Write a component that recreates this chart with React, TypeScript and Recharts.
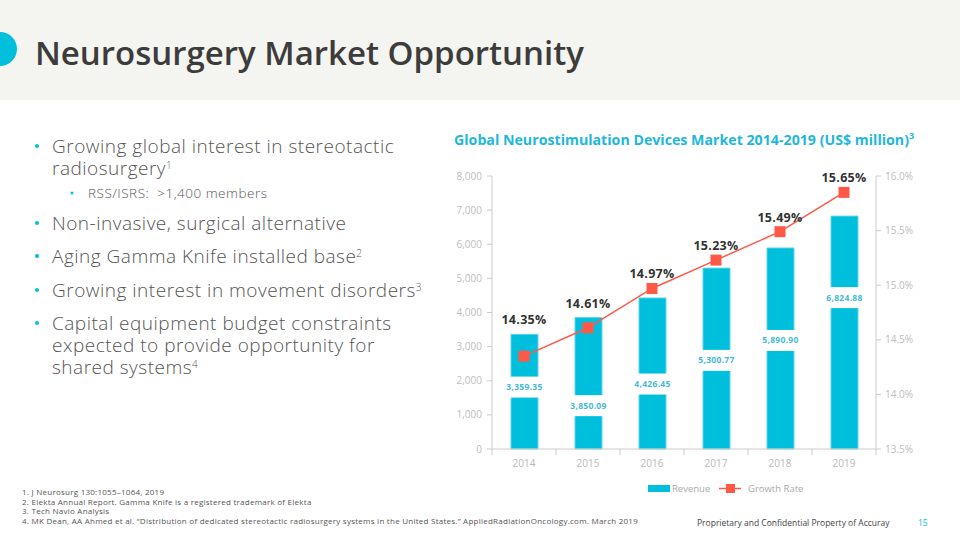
import React from "react";
import { ComposedChart, Bar, Line, XAxis, YAxis, LabelList } from "recharts";

const years = ["2014", "2015", "2016", "2017", "2018", "2019"];
const revenue = [3359.35, 3850.09, 4426.45, 5300.77, 5890.9, 6824.88];
const revenueLabels = ["3,359.35", "3,850.09", "4,426.45", "5,300.77", "5,890.90", "6,824.88"];
// growth rate as plotted in the picture (last marker is drawn near 15.85)
const growthPlotted = [14.35, 14.61, 14.97, 15.23, 15.49, 15.85];
const growthLabels = ["14.35%", "14.61%", "14.97%", "15.23%", "15.49%", "15.65%"];
const revenueTicks = [0, 1000, 2000, 3000, 4000, 5000, 6000, 7000, 8000];
const growthTicks = [13.5, 14, 14.5, 15, 15.5, 16];

const data = years.map((y, i) => ({ year: y, revenue: revenue[i], growth: growthPlotted[i] }));

// label placement (fraction of bar height from the base)
const REV_LABEL_FRAC = [0.54, 0.33, 0.43, 0.49, 0.54, 0.65];

const CYAN = "#00BFDD";
const RED = "#FF5847";
const FONT = "'Open Sans', 'Noto Sans', sans-serif";

const CH_W = 500;
const CH_H = 330;
const M = { top: 16, right: 4, left: 12, bottom: 16 };
const XH = 25;
const PLOT_BOTTOM = CH_H - M.bottom - XH;
const PLOT_H = PLOT_BOTTOM - M.top;

const fmt = (v: number) => v.toLocaleString("en-US");

function RevLabel(props: any) {
  const vb = props.viewBox || {};
  const x = props.x ?? vb.x;
  const y = props.y ?? vb.y;
  const w = props.width ?? vb.width;
  const h = props.height ?? vb.height;
  const i = props.index;
  const cy = y + h - h * REV_LABEL_FRAC[i];
  return (
    <g>
      <rect x={x - 2} y={cy - 10.5} width={w + 4} height={21} fill="#ffffff" />
      <text x={x + w / 2} y={cy + 3} textAnchor="middle" fontSize={8.5} fontWeight={700} fill="#45B9D6" fontFamily={FONT} letterSpacing={0.3}>
        {revenueLabels[i]}
      </text>
    </g>
  );
}

function GrowthLabel(props: any) {
  const vb = props.viewBox || {};
  const x = props.x ?? vb.x;
  const y = props.y ?? vb.y;
  const i = props.index;
  const barTop = PLOT_BOTTOM - (revenue[i] / 8000) * PLOT_H;
  const top = Math.min(y, barTop);
  return (
    <text x={x} y={top - 10} textAnchor="middle" fontSize={12.5} fontWeight={700} fill="#333333" fontFamily={FONT} letterSpacing={0.3}>
      {growthLabels[i]}
    </text>
  );
}

function SquareDot(props: any) {
  const { cx, cy } = props;
  if (cx == null || cy == null) return null;
  return <rect x={cx - 5.5} y={cy - 5.5} width={11} height={11} fill={RED} />;
}

function XTick(props: any) {
  const { x, y, payload } = props;
  const off = payload && payload.offset ? payload.offset : 32;
  return (
    <g>
      {payload.index === 0 && <line x1={x - off} y1={y} x2={x - off} y2={y + 6} stroke="#cccccc" />}
      <line x1={x + off} y1={y} x2={x + off} y2={y + 6} stroke="#cccccc" />
      <text x={x} y={y + 18} textAnchor="middle" fontSize={10} fill="#b8b8b8" fontFamily={FONT}>
        {payload.value}
      </text>
    </g>
  );
}

type Line_ = { t: string; sup?: string };
const bullets: { y: number; lines: Line_[] }[] = [
  { y: 153, lines: [{ t: "Growing global interest in stereotactic" }, { t: "radiosurgery", sup: "1" }] },
  { y: 230, lines: [{ t: "Non-invasive, surgical alternative" }] },
  { y: 263, lines: [{ t: "Aging Gamma Knife installed base", sup: "2" }] },
  { y: 297, lines: [{ t: "Growing interest in movement disorders", sup: "3" }] },
  {
    y: 330,
    lines: [
      { t: "Capital equipment budget constraints" },
      { t: "expected to provide opportunity for" },
      { t: "shared systems", sup: "4" },
    ],
  },
];

const footnotes = [
  "1.  J Neurosurg 130:1055\u20131064, 2019",
  "2.  Elekta Annual Report. Gamma Knife is a registered trademark of Elekta",
  "3.  Tech Navio Analysis",
  "4.  MK Dean, AA Ahmed et al. \u201cDistribution of dedicated stereotactic radiosurgery systems in the United States.\u201d AppliedRadiationOncology.com. March 2019",
];

const LINE_H = 22;
const BASE_OFF = 18.4;

export default function App() {
  return (
    <div style={{ position: "absolute", left: 0, top: 0, width: 960, height: 540, background: "#ffffff", overflow: "hidden" }}>
      <svg width={960} height={540} style={{ position: "absolute", left: 0, top: 0 }}>
        <rect x={0} y={0} width={960} height={100} fill="#F4F4F0" />
        <circle cx={0} cy={49} r={17} fill={CYAN} />
        <text x={35} y={65} fontSize={33} fontWeight={600} fill="#3C3C3B" fontFamily={FONT}>
          Neurosurgery Market Opportunity
        </text>

        {bullets.map((b, i) => (
          <circle key={i} cx={37} cy={b.y - 7} r={2} fill={CYAN} />
        ))}
        <circle cx={72} cy={193} r={1.5} fill={CYAN} />
        <text x={88} y={198} fontSize={13.5} fontWeight={300} fill="#555555" fontFamily={FONT} letterSpacing={0.5}>
          RSS/ISRS:{"\u00a0\u00a0"}&gt;1,400 members
        </text>

        <text x={454} y={145} fontSize={14.2} fontWeight={700} fill="#1FB8DA" fontFamily={FONT}>
          Global Neurostimulation Devices Market 2014-2019 (US$ million)
          <tspan dy={-6} fontSize={9}>3</tspan>
        </text>

        {footnotes.map((f, i) => (
          <text key={i} x={22} y={495 + i * 9.5} fontSize={8} fill="#555555" fontFamily={FONT} letterSpacing={0.25}>
            {f}
          </text>
        ))}

        <rect x={648} y={485} width={22} height={7} fill={CYAN} />
        <text x={672} y={492} fontSize={9.5} fill="#aaaaaa" fontFamily={FONT}>Revenue</text>
        <line x1={719} y1={488.5} x2={741} y2={488.5} stroke={RED} strokeWidth={1.5} />
        <rect x={726} y={484} width={9} height={9} fill={RED} />
        <text x={748} y={492} fontSize={9.5} fill="#aaaaaa" fontFamily={FONT}>Growth Rate</text>

        <text x={697} y={526} fontSize={8.5} fontWeight={500} fill="#444444" fontFamily={FONT}>
          Proprietary and Confidential Property of Accuray
        </text>
        <text x={918} y={526} fontSize={8.5} fill={CYAN} fontFamily={FONT}>15</text>
      </svg>

      {bullets.map((b, i) =>
        b.lines.map((l, j) => (
          <div
            key={i + "-" + j}
            style={{
              position: "absolute",
              left: 52,
              top: b.y + j * LINE_H - BASE_OFF,
              height: LINE_H,
              lineHeight: LINE_H + "px",
              fontSize: 19,
              fontWeight: 300,
              color: "#555555",
              fontFamily: FONT,
              letterSpacing: 0.5,
              whiteSpace: "nowrap",
              overflow: "visible",
            }}
          >
            {l.t}
            {l.sup && (
              <span style={{ fontSize: 10, letterSpacing: 0, lineHeight: 0, position: "relative", top: -6 }}>{l.sup}</span>
            )}
          </div>
        ))
      )}

      <div style={{ position: "absolute", left: 430, top: 160, width: CH_W, height: CH_H }}>
        <ComposedChart width={CH_W} height={CH_H} data={data} margin={M}>
          <XAxis
            dataKey="year"
            height={XH}
            tickLine={false}
            tickSize={0}
            tickMargin={0}
            axisLine={{ stroke: "#cccccc" }}
            tick={<XTick />}
            interval={0}
          />
          <YAxis
            yAxisId="left"
            orientation="left"
            width={50}
            domain={[0, 8000]}
            ticks={revenueTicks}
            tickFormatter={fmt}
            tickSize={5}
            tickMargin={5}
            axisLine={{ stroke: "#cccccc" }}
            tickLine={{ stroke: "#cccccc" }}
            tick={{ fill: "#bdbdbd", fontSize: 10, fontFamily: FONT }}
          />
          <YAxis
            yAxisId="right"
            orientation="right"
            width={50}
            domain={[13.5, 16]}
            ticks={growthTicks}
            tickFormatter={(v: number) => v.toFixed(1) + "%"}
            tickSize={5}
            tickMargin={4}
            axisLine={{ stroke: "#cccccc" }}
            tickLine={{ stroke: "#cccccc" }}
            tick={{ fill: "#bdbdbd", fontSize: 10, fontFamily: FONT }}
          />
          <Bar yAxisId="left" dataKey="revenue" fill={CYAN} stroke="#5FD4EA" strokeWidth={1} barSize={27} isAnimationActive={false}>
            <LabelList dataKey="revenue" content={<RevLabel />} />
          </Bar>
          <Line
            yAxisId="right"
            dataKey="growth"
            stroke={RED}
            strokeWidth={1.5}
            dot={<SquareDot />}
            activeDot={false}
            isAnimationActive={false}
          >
            <LabelList dataKey="growth" content={<GrowthLabel />} />
          </Line>
        </ComposedChart>
      </div>
    </div>
  );
}
